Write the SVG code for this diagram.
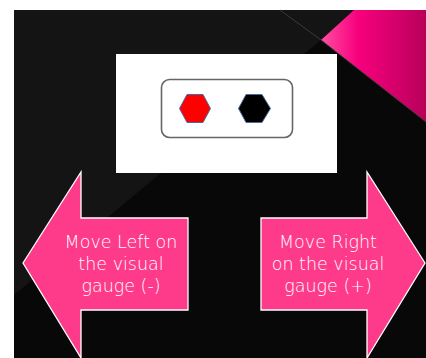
<svg xmlns="http://www.w3.org/2000/svg" width="426" height="358" viewBox="0 0 426 358">
<defs>
<linearGradient id="pg" x1="321" y1="0" x2="426" y2="0" gradientUnits="userSpaceOnUse">
<stop offset="0" stop-color="#ff4fa0"/>
<stop offset="0.35" stop-color="#f8007e"/>
<stop offset="1" stop-color="#b8005a"/>
</linearGradient>
<style>
.arrow{fill:#fe3a8a;stroke:#ffffff;stroke-width:1.3}
.lbl{fill:#ffffff;font-family:"DejaVu Sans",sans-serif;font-weight:200;font-size:17.5px;text-anchor:middle}
.hex{stroke:#4a6a9a;stroke-width:1}
</style>
</defs>
<rect width="426" height="358" fill="#ffffff"/>
<g id="background">
<rect x="14" y="10" width="412" height="348" fill="#080808"/>
<polygon points="14,10 354,10 321,40 14,295" fill="#141414"/>
<polygon points="354,10 426,10 426,122 321,40" fill="url(#pg)"/>
<line x1="280" y1="10" x2="321" y2="40" stroke="#3a3a3a" stroke-width="1"/>
<line x1="321" y1="40" x2="426" y2="122" stroke="#3a3a3a" stroke-width="1"/>
</g>
<g id="gauge-panel">
<rect x="116" y="54" width="221" height="119" fill="#ffffff"/>
<rect x="161.5" y="79.5" width="131" height="58" rx="8" fill="none" stroke="#666" stroke-width="1.6"/>
<polygon class="hex" fill="#ff0000" points="179.5,108.5 187,94.5 203,94.5 210.5,108.5 203,122.5 187,122.5"/>
<polygon class="hex" fill="#000000" points="238.5,108.5 246,94.5 262,94.5 270.5,108.5 262,122.5 246,122.5"/>
</g>
<g id="left-arrow">
<polygon class="arrow" points="23,263 81,172 81,218 188,218 188,310 81,310 81,358"/>
<text class="lbl" x="121" y="248">Move Left on</text>
<text class="lbl" x="121" y="270">the visual</text>
<text class="lbl" x="121" y="292">gauge (-)</text>
</g>
<g id="right-arrow">
<polygon class="arrow" points="425,263 367,172 367,218 261,218 261,310 367,310 367,358"/>
<text class="lbl" x="328" y="248">Move Right</text>
<text class="lbl" x="328" y="270">on the visual</text>
<text class="lbl" x="328" y="292">gauge (+)</text>
</g>
</svg>
